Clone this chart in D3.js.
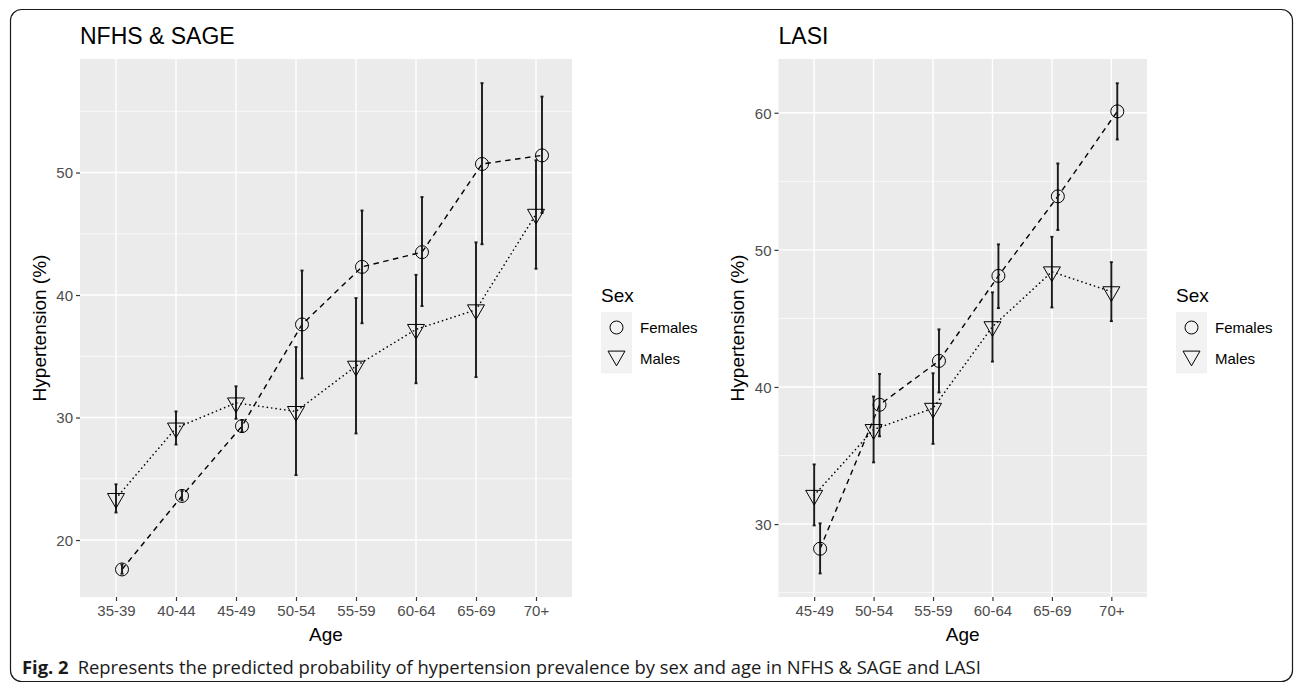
<!DOCTYPE html>
<html>
<head>
<meta charset="utf-8">
<script src="https://cdnjs.cloudflare.com/ajax/libs/d3/7.8.5/d3.min.js"></script>
<style>
	body { margin: 0; background: #ffffff; }
	svg { display: block; font-family: 'Liberation Sans', Arial, sans-serif; }
</style>
</head>
<body>
<svg id="chart" width="1295" height="683"></svg>
<script>
'use strict';

// NFHS & SAGE panel
var nfhsAges = ['35-39', '40-44', '45-49', '50-54', '55-59', '60-64', '65-69', '70+'];
var nfhsFemaleMean = [17.6, 23.6, 29.3, 37.6, 42.3, 43.5, 50.7, 51.4];
var nfhsFemaleLow = [17.25, 23.25, 28.85, 33.2, 37.7, 39.1, 44.15, 46.7];
var nfhsFemaleHigh = [18.0, 24.0, 29.8, 42.0, 46.9, 48.0, 57.3, 56.2];
var nfhsMaleMean = [23.4, 29.15, 31.2, 30.5, 34.2, 37.2, 38.8, 46.6];
var nfhsMaleLow = [22.25, 27.8, 29.9, 25.3, 28.7, 32.8, 33.3, 42.15];
var nfhsMaleHigh = [24.55, 30.5, 32.55, 35.75, 39.75, 41.65, 44.3, 51.0];
var nfhsTicks = [20, 30, 40, 50];
var nfhsRange = [15.35, 59.27];

// LASI panel
var lasiAges = ['45-49', '50-54', '55-59', '60-64', '65-69', '70+'];
var lasiFemaleMean = [28.2, 38.7, 41.9, 48.1, 53.9, 60.1];
var lasiFemaleLow = [26.4, 36.4, 39.6, 45.75, 51.45, 58.05];
var lasiFemaleHigh = [30.05, 40.95, 44.2, 50.4, 56.3, 62.15];
var lasiMaleMean = [32.1, 36.9, 38.45, 44.4, 48.4, 46.95];
var lasiMaleLow = [29.9, 34.5, 35.85, 41.85, 45.8, 44.8];
var lasiMaleHigh = [34.35, 39.3, 41.0, 46.9, 50.95, 49.1];
var lasiTicks = [30, 40, 50, 60];
var lasiRange = [24.68, 63.92];

var sexLabels = ['Females', 'Males'];
var captionBold = 'Fig. 2';
var captionText = 'Represents the predicted probability of hypertension prevalence by sex and age in NFHS & SAGE and LASI';

var svg = d3.select('#chart');

// frame round the figure
svg.append('rect')
	.attr('x', 10.5)
	.attr('y', 9.5)
	.attr('width', 1282)
	.attr('height', 672)
	.attr('rx', 11)
	.attr('fill', 'none')
	.attr('stroke', '#1a1a1a')
	.attr('stroke-width', 1.2);

var triangle = d3.symbol().type(d3.symbolTriangle).size(125);

var makeSeries = function(ages, mean, low, high) {
	return ages.map(function(a, i) {
		return {age: a, mean: mean[i], low: low[i], high: high[i]};
	});
};

var drawPanel = function(opts) {
	var margin = opts.margin;
	var g = svg.append('g');

	var xscale = d3.scalePoint()
		.domain(opts.ages)
		.range([margin.left, margin.right])
		.padding(0.6);

	var yscale = d3.scaleLinear()
		.domain(opts.range)
		.range([margin.bottom, margin.top]);

	var dodge = xscale.step() * 0.1;

	// panel background
	g.append('rect')
		.attr('x', margin.left)
		.attr('y', margin.top)
		.attr('width', margin.right - margin.left)
		.attr('height', margin.bottom - margin.top)
		.attr('fill', '#ebebeb');

	// minor grid
	var minor = d3.range(Math.ceil(opts.range[0] / 10) * 10 - 5, opts.range[1], 10)
		.filter(function(v) { return v > opts.range[0] && v < opts.range[1]; });
	g.selectAll('.minor')
		.data(minor)
	.enter().append('line')
		.attr('x1', margin.left)
		.attr('x2', margin.right)
		.attr('y1', function(d) { return yscale(d); })
		.attr('y2', function(d) { return yscale(d); })
		.attr('stroke', '#ffffff')
		.attr('stroke-width', 0.7);

	// major grid
	g.selectAll('.majory')
		.data(opts.ticks)
	.enter().append('line')
		.attr('x1', margin.left)
		.attr('x2', margin.right)
		.attr('y1', function(d) { return yscale(d); })
		.attr('y2', function(d) { return yscale(d); })
		.attr('stroke', '#ffffff')
		.attr('stroke-width', 1.4);

	g.selectAll('.majorx')
		.data(opts.ages)
	.enter().append('line')
		.attr('x1', function(d) { return xscale(d); })
		.attr('x2', function(d) { return xscale(d); })
		.attr('y1', margin.top)
		.attr('y2', margin.bottom)
		.attr('stroke', '#ffffff')
		.attr('stroke-width', 1.4);

	// axes
	var yaxis = g.append('g')
		.attr('transform', 'translate(' + margin.left + ',0)')
		.call(d3.axisLeft(yscale).tickValues(opts.ticks).tickSize(4).tickPadding(3));
	var xaxis = g.append('g')
		.attr('transform', 'translate(0,' + margin.bottom + ')')
		.call(d3.axisBottom(xscale).tickSize(4).tickPadding(2));
	[yaxis, xaxis].forEach(function(ax) {
		ax.attr('font-family', null);
		ax.select('.domain').remove();
		ax.selectAll('line').attr('stroke', '#333333').attr('stroke-width', 1.2);
		ax.selectAll('text')
			.attr('fill', '#4d4d4d')
			.style('font-size', '15px')
			.style('font-family', "'Liberation Sans', Arial, sans-serif");
	});
	yaxis.selectAll('text').attr('dy', '0.36em');
	xaxis.selectAll('text').attr('dy', '0.85em');

	var females = makeSeries(opts.ages, opts.fMean, opts.fLow, opts.fHigh);
	var males = makeSeries(opts.ages, opts.mMean, opts.mLow, opts.mHigh);

	var fx = function(d) { return xscale(d.age) + dodge; };
	var mx = function(d) { return xscale(d.age); };

	var lineF = d3.line().x(fx).y(function(d) { return yscale(d.mean); });
	var lineM = d3.line().x(mx).y(function(d) { return yscale(d.mean); });

	g.append('path')
		.attr('d', lineF(females))
		.attr('fill', 'none')
		.attr('stroke', '#000000')
		.attr('stroke-width', 1.4)
		.attr('stroke-dasharray', '5.5,4.5');

	g.append('path')
		.attr('d', lineM(males))
		.attr('fill', 'none')
		.attr('stroke', '#000000')
		.attr('stroke-width', 1.6)
		.attr('stroke-linecap', 'round')
		.attr('stroke-dasharray', '0.1,4.3');

	// error bars
	var errorBars = function(data, xf) {
		var eb = g.append('g')
			.selectAll('g')
			.data(data)
		.enter().append('g')
			.attr('stroke', '#1a1a1a')
			.attr('stroke-width', 1.9);
		eb.append('line')
			.attr('x1', xf).attr('x2', xf)
			.attr('y1', function(d) { return yscale(d.low); })
			.attr('y2', function(d) { return yscale(d.high); });
		eb.append('line')
			.attr('x1', function(d) { return xf(d) - 1.5; })
			.attr('x2', function(d) { return xf(d) + 1.5; })
			.attr('y1', function(d) { return yscale(d.low); })
			.attr('y2', function(d) { return yscale(d.low); });
		eb.append('line')
			.attr('x1', function(d) { return xf(d) - 1.5; })
			.attr('x2', function(d) { return xf(d) + 1.5; })
			.attr('y1', function(d) { return yscale(d.high); })
			.attr('y2', function(d) { return yscale(d.high); });
	};
	errorBars(females, fx);
	errorBars(males, mx);

	// points
	g.selectAll('.fpt')
		.data(females)
	.enter().append('circle')
		.attr('cx', fx)
		.attr('cy', function(d) { return yscale(d.mean); })
		.attr('r', 6.5)
		.attr('fill', 'none')
		.attr('stroke', '#000000')
		.attr('stroke-width', 1);

	g.selectAll('.mpt')
		.data(males)
	.enter().append('path')
		.attr('d', triangle)
		.attr('transform', function(d) {
			return 'translate(' + mx(d) + ',' + yscale(d.mean) + ') rotate(180)';
		})
		.attr('fill', 'none')
		.attr('stroke', '#000000')
		.attr('stroke-width', 1);

	// titles
	g.append('text')
		.attr('x', margin.left)
		.attr('y', 44)
		.style('font-size', '23px')
		.attr('fill', '#000000')
		.text(opts.title);

	g.append('text')
		.attr('x', (margin.left + margin.right) / 2)
		.attr('y', 641)
		.attr('text-anchor', 'middle')
		.style('font-size', '19px')
		.attr('fill', '#000000')
		.text('Age');

	g.append('text')
		.attr('transform', 'translate(' + opts.ylabelX + ',' + ((margin.top + margin.bottom) / 2) + ') rotate(-90)')
		.attr('text-anchor', 'middle')
		.style('font-size', '19px')
		.attr('fill', '#000000')
		.text('Hypertension (%)');

	// legend
	var lx = opts.legendX;
	var legend = g.append('g');
	legend.append('text')
		.attr('x', lx)
		.attr('y', 302)
		.style('font-size', '19px')
		.attr('fill', '#000000')
		.text('Sex');
	legend.append('rect')
		.attr('x', lx)
		.attr('y', 312)
		.attr('width', 31)
		.attr('height', 61.5)
		.attr('fill', '#f2f2f2');
	legend.append('circle')
		.attr('cx', lx + 15.5)
		.attr('cy', 327.5)
		.attr('r', 6.5)
		.attr('fill', 'none')
		.attr('stroke', '#000000')
		.attr('stroke-width', 1);
	legend.append('path')
		.attr('d', triangle)
		.attr('transform', 'translate(' + (lx + 15.5) + ',' + 356 + ') rotate(180)')
		.attr('fill', 'none')
		.attr('stroke', '#000000')
		.attr('stroke-width', 1);
	legend.selectAll('.lab')
		.data(sexLabels)
	.enter().append('text')
		.attr('x', lx + 39)
		.attr('y', function(d, i) { return 333 + i * 30.7; })
		.style('font-size', '15px')
		.attr('fill', '#000000')
		.text(function(d) { return d; });
};

drawPanel({
	title: 'NFHS & SAGE',
	ages: nfhsAges,
	range: nfhsRange,
	ticks: nfhsTicks,
	fMean: nfhsFemaleMean, fLow: nfhsFemaleLow, fHigh: nfhsFemaleHigh,
	mMean: nfhsMaleMean, mLow: nfhsMaleLow, mHigh: nfhsMaleHigh,
	margin: {left: 80, right: 572, top: 59, bottom: 597},
	ylabelX: 46,
	legendX: 601
});

drawPanel({
	title: 'LASI',
	ages: lasiAges,
	range: lasiRange,
	ticks: lasiTicks,
	fMean: lasiFemaleMean, fLow: lasiFemaleLow, fHigh: lasiFemaleHigh,
	mMean: lasiMaleMean, mLow: lasiMaleLow, mHigh: lasiMaleHigh,
	margin: {left: 778.5, right: 1147, top: 59, bottom: 597},
	ylabelX: 744,
	legendX: 1176
});

// caption
var caption = svg.append('text')
	.attr('x', 22)
	.attr('y', 674)
	.style('font-family', "'Open Sans', 'Noto Sans', sans-serif")
	.style('font-size', '18.4px')
	.attr('fill', '#1a1a1a');
caption.append('tspan')
	.style('font-weight', 'bold')
	.text(captionBold);
caption.append('tspan')
	.attr('dx', 9)
	.text(captionText);
</script>
</body>
</html>
